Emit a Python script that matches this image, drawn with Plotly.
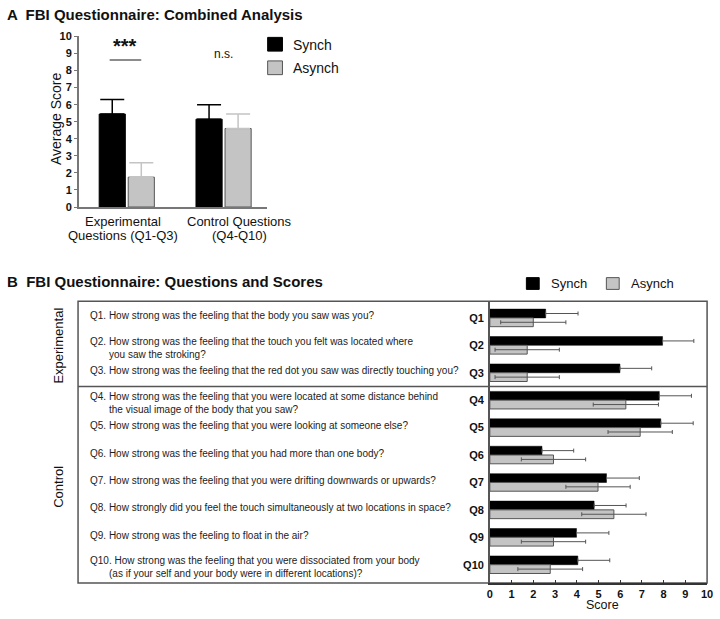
import plotly.graph_objects as go

W, H = 720, 619
FONT = "Liberation Sans, Arial, sans-serif"

def px(x):
    return x / W

def py(y):
    return 1 - y / H

# ---------------- Panel A data ----------------
groups_a = ["Experimental Questions (Q1-Q3)", "Control Questions (Q4-Q10)"]
group_label_lines_a = [["Experimental", "Questions (Q1-Q3)"], ["Control Questions", "(Q4-Q10)"]]
synch_a = [5.45, 5.15]
synch_a_err = [0.85, 0.85]
asynch_a = [1.75, 4.6]
asynch_a_err = [0.85, 0.85]
yticks_a = list(range(0, 11))

# ---------------- Panel B data ----------------
q_labels = ["Q1", "Q2", "Q3", "Q4", "Q5", "Q6", "Q7", "Q8", "Q9", "Q10"]
questions = [
    ["Q1. How strong was the feeling that the body you saw was you?"],
    ["Q2. How strong was the feeling that the touch you felt was located where",
     "you saw the stroking?"],
    ["Q3. How strong was the feeling that the red dot you saw was directly touching you?"],
    ["Q4. How strong was the feeling that you were located at some distance behind",
     "the visual image of the body that you saw?"],
    ["Q5. How strong was the feeling that you were looking at someone else?"],
    ["Q6. How strong was the feeling that you had more than one body?"],
    ["Q7. How strong was the feeling that you were drifting downwards or upwards?"],
    ["Q8. How strongly did you feel the touch simultaneously at two locations in space?"],
    ["Q9. How strong was the feeling to float in the air?"],
    ["Q10. How strong was the feeling that you were dissociated from your body",
     "(as if your self and your body were in different locations)?"],
]
synch_b = [2.57, 7.95, 5.99, 7.80, 7.87, 2.40, 5.37, 4.80, 3.99, 4.05]
synch_b_err = [1.49, 1.44, 1.46, 1.48, 1.49, 1.46, 1.51, 1.47, 1.49, 1.47]
asynch_b = [2.00, 1.72, 1.72, 6.26, 6.92, 2.93, 4.98, 5.71, 2.93, 2.78]
asynch_b_err = [1.50, 1.48, 1.48, 1.50, 1.48, 1.48, 1.48, 1.48, 1.48, 1.49]
xticks_b = list(range(0, 11))

BLACK = "#000000"
GRAY = "#c4c4c4"
EDGE = "#555555"

fig = go.Figure()

# Panel A bars
fig.add_trace(go.Bar(
    x=groups_a, y=synch_a, name="Synch", offset=-0.284, width=0.27,
    marker=dict(color=BLACK, line=dict(color=BLACK, width=1)),
    error_y=dict(type="data", array=synch_a_err, symmetric=False,
                 arrayminus=[0] * len(synch_a), color=BLACK, thickness=1.5, width=12),
    xaxis="x", yaxis="y", showlegend=False,
))
fig.add_trace(go.Bar(
    x=groups_a, y=asynch_a, name="Asynch", offset=0.016, width=0.27,
    marker=dict(color=GRAY, line=dict(color=EDGE, width=1)),
    error_y=dict(type="data", array=asynch_a_err, symmetric=False,
                 arrayminus=[0] * len(asynch_a), color=GRAY, thickness=1.5, width=12),
    xaxis="x", yaxis="y", showlegend=False,
))

# Panel B bars
fig.add_trace(go.Bar(
    y=q_labels, x=synch_b, orientation="h", name="Synch", offset=-0.32, width=0.32,
    marker=dict(color=BLACK, line=dict(color=BLACK, width=0.5)),
    error_x=dict(type="data", array=synch_b_err, symmetric=False,
                 arrayminus=[0] * len(synch_b), color=EDGE, thickness=1, width=2),
    xaxis="x2", yaxis="y2", showlegend=False,
))
fig.add_trace(go.Bar(
    y=q_labels, x=asynch_b, orientation="h", name="Asynch", offset=0.0, width=0.32,
    marker=dict(color=GRAY, line=dict(color=EDGE, width=1)),
    error_x=dict(type="data", array=asynch_b_err, color=EDGE, thickness=1, width=2),
    xaxis="x2", yaxis="y2", showlegend=False,
))

B_BOTTOM = 588.5

fig.update_layout(
    width=W, height=H,
    margin=dict(l=0, r=0, t=0, b=0),
    paper_bgcolor="white", plot_bgcolor="white",
    barmode="overlay",
    font=dict(family=FONT, color="#111"),
    xaxis=dict(
        domain=[px(77), px(267)], anchor="y", type="category",
        range=[-0.492, 1.446], showticklabels=False, ticks="",
        showline=True, linecolor="#777", linewidth=2, showgrid=False, zeroline=False,
    ),
    yaxis=dict(
        domain=[py(205), py(31)], anchor="x", range=[0, 10],
        tickvals=yticks_a, ticks="outside", ticklen=3, tickcolor="#777", tickwidth=1,
        tickfont=dict(size=11, weight="bold", color="#111"),
        showline=True, linecolor="#777", linewidth=2, showgrid=False, zeroline=False,
    ),
    xaxis2=dict(
        domain=[px(493), px(713)], anchor="y2", range=[0, 10],
        tickvals=xticks_b, ticks="inside", ticklen=3, tickcolor="#333",
        tickfont=dict(size=11, weight="bold", color="#111"),
        ticklabeloverflow="allow", ticklabelstandoff=0,
        showline=True, linecolor="#333", linewidth=1.5, showgrid=False, zeroline=False,
    ),
    yaxis2=dict(
        domain=[py(B_BOTTOM), py(301)], anchor="x2", type="category",
        categoryorder="array", categoryarray=q_labels,
        range=[9.67, -0.61], ticks="", ticklabelstandoff=2,
        tickfont=dict(size=11, weight="bold", color="#111"),
        showline=True, linecolor=EDGE, linewidth=1.5, showgrid=False, zeroline=False,
    ),
)

ann = []
shapes = []

# Titles
ann.append(dict(text="A  FBI Questionnaire: Combined Analysis", xref="paper", yref="paper",
                x=px(2), y=py(9), xanchor="left", yanchor="middle", showarrow=False,
                font=dict(size=15, weight="bold", color="#111")))
ann.append(dict(text="B  FBI Questionnaire: Questions and Scores", xref="paper", yref="paper",
                x=px(2), y=py(281), xanchor="left", yanchor="middle", showarrow=False,
                font=dict(size=15, weight="bold", color="#111")))

# Panel A y title
ann.append(dict(text="Average Score", xref="paper", yref="paper", x=px(53), y=py(115),
                xanchor="center", yanchor="middle", textangle=-90, showarrow=False,
                font=dict(size=14)))

# Panel A category labels
shifts = [-4, 16]
for i, lines in enumerate(group_label_lines_a):
    for j, line in enumerate(lines):
        ann.append(dict(text=line, xref="x", yref="paper", x=i, y=py(220 + 14 * j),
                        xshift=shifts[i], xanchor="center", yanchor="middle",
                        showarrow=False, font=dict(size=13)))

# significance
shapes.append(dict(type="line", xref="paper", yref="y", x0=px(108), x1=px(140),
                   y0=8.62, y1=8.62, line=dict(color="#666", width=1.5)))
ann.append(dict(text="***", xref="paper", yref="paper", x=px(124), y=py(41),
                xanchor="center", yanchor="middle", showarrow=False,
                font=dict(size=20, weight="bold")))
ann.append(dict(text="n.s.", xref="paper", yref="paper", x=px(223), y=py(49),
                xanchor="center", yanchor="middle", showarrow=False, font=dict(size=12)))

# Legend A
shapes.append(dict(type="rect", xref="paper", yref="paper", x0=px(268), x1=px(283),
                   y0=py(32), y1=py(46), fillcolor=BLACK, line=dict(color=BLACK, width=1)))
shapes.append(dict(type="rect", xref="paper", yref="paper", x0=px(268), x1=px(283),
                   y0=py(56), y1=py(70), fillcolor=GRAY, line=dict(color=EDGE, width=1)))
ann.append(dict(text="Synch", xref="paper", yref="paper", x=px(292), y=py(40),
                xanchor="left", yanchor="middle", showarrow=False, font=dict(size=14)))
ann.append(dict(text="Asynch", xref="paper", yref="paper", x=px(292), y=py(63),
                xanchor="left", yanchor="middle", showarrow=False, font=dict(size=14)))

# Legend B
shapes.append(dict(type="rect", xref="paper", yref="paper", x0=px(530), x1=px(543),
                   y0=py(277), y1=py(289), fillcolor=BLACK, line=dict(color=BLACK, width=1)))
shapes.append(dict(type="rect", xref="paper", yref="paper", x0=px(611), x1=px(624),
                   y0=py(277), y1=py(289), fillcolor=GRAY, line=dict(color=EDGE, width=1)))
ann.append(dict(text="Synch", xref="paper", yref="paper", x=px(553), y=py(283),
                xanchor="left", yanchor="middle", showarrow=False, font=dict(size=13)))
ann.append(dict(text="Asynch", xref="paper", yref="paper", x=px(634), y=py(283),
                xanchor="left", yanchor="middle", showarrow=False, font=dict(size=13)))

# Panel B x title
ann.append(dict(text="Score", xref="paper", yref="paper", x=px(607), y=py(619),
                xanchor="center", yanchor="bottom", showarrow=False, borderpad=0,
                font=dict(size=12.5)))

# Panel B box and divider
shapes.append(dict(type="rect", xref="paper", yref="paper", x0=px(76), x1=px(713),
                   y0=py(B_BOTTOM), y1=py(301), line=dict(color=EDGE, width=1.5),
                   fillcolor="rgba(0,0,0,0)", layer="below"))
shapes.append(dict(type="line", xref="paper", yref="y2", x0=px(76), x1=px(713),
                   y0=2.5, y1=2.5, line=dict(color=EDGE, width=1.5)))

# Group labels
ann.append(dict(text="Experimental", xref="paper", yref="paper", x=px(56), y=py(346),
                xanchor="center", yanchor="middle", textangle=-90, showarrow=False,
                font=dict(size=13)))
ann.append(dict(text="Control", xref="paper", yref="paper", x=px(56), y=py(490),
                xanchor="center", yanchor="middle", textangle=-90, showarrow=False,
                font=dict(size=13)))

# Question texts
for i, lines in enumerate(questions):
    if len(lines) == 1:
        ann.append(dict(text=lines[0], xref="paper", yref="y2", x=px(86), y=i, yshift=2,
                        xanchor="left", yanchor="middle", showarrow=False,
                        font=dict(size=10, color="#222")))
    else:
        ann.append(dict(text=lines[0], xref="paper", yref="y2", x=px(86), y=i, yshift=4,
                        xanchor="left", yanchor="middle", showarrow=False,
                        font=dict(size=10, color="#222")))
        ann.append(dict(text=lines[1], xref="paper", yref="y2", x=px(105), y=i, yshift=-9,
                        xanchor="left", yanchor="middle", showarrow=False,
                        font=dict(size=10, color="#222")))

fig.update_layout(annotations=ann, shapes=shapes)
fig.write_html("out.html", config={"displayModeBar": False},
               post_script="document.body.style.margin='0px';")
